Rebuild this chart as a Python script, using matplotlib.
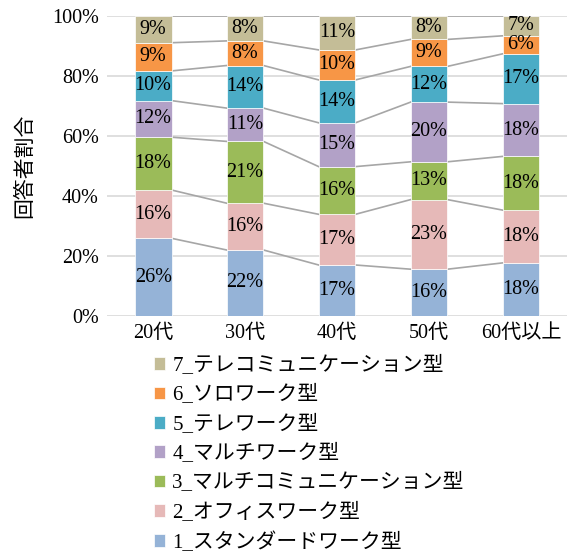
import numpy as np
import matplotlib
matplotlib.use("Agg")
import matplotlib.pyplot as plt

plt.rcParams['font.family'] = ['Liberation Serif', 'Noto Sans CJK JP']

# 年代別の回答者割合 (%)
ages = ['20代', '30代', '40代', '50代', '60代以上']
types = ['1_スタンダードワーク型', '2_オフィスワーク型', '3_マルチコミュニケーション型',
         '4_マルチワーク型', '5_テレワーク型', '6_ソロワーク型', '7_テレコミュニケーション型']
standard = [25.9, 22.0, 17.0, 15.6, 17.7]
office = [16.1, 15.6, 16.9, 23.2, 17.6]
multi_comm = [17.6, 20.6, 15.9, 12.6, 17.9]
multi_work = [12.2, 11.1, 14.6, 19.9, 17.6]
telework = [9.9, 14.2, 14.3, 11.9, 16.6]
solo = [9.4, 8.2, 10.0, 9.0, 6.0]
telecomm = [8.9, 8.3, 11.3, 7.8, 6.6]
colors = ['#95b3d7', '#e6b9b8', '#9bbb59', '#b2a1c7', '#4bacc6', '#f79646', '#c4bd97']

series = [standard, office, multi_comm, multi_work, telework, solo, telecomm]

fig = plt.figure(figsize=(5.73, 5.58), dpi=100)
ax = fig.add_axes([0.187, 0.4337, 0.8025, 0.5376])

x = np.arange(len(ages))
width = 0.40
bottom = np.zeros(len(ages))
handles = []
for vals, name, col in zip(series, types, colors):
    vals = np.array(vals)
    h = ax.bar(x, vals, width, bottom=bottom, color=col, edgecolor='white',
               linewidth=0.5, label=name, zorder=3)
    handles.append(h)
    for xi, b, v in zip(x, bottom, vals):
        ax.text(xi, b + v / 2, f'{v:.0f}%', ha='center', va='center',
                fontsize=14.5, zorder=4)
    top = bottom + vals
    # 系列線
    for i in range(len(ages) - 1):
        ax.plot([x[i] + width / 2, x[i + 1] - width / 2], [top[i], top[i + 1]],
                color='#a6a6a6', lw=1.2, zorder=2)
    bottom = top

ax.set_xlim(-0.5, len(ages) - 0.5)
ax.set_ylim(0, 100)
ax.set_yticks(np.arange(0, 101, 20))
ax.set_yticklabels([f'{t}%' for t in range(0, 101, 20)], fontsize=14.5)
ax.set_xticks(x)
ax.set_xticklabels(ages, fontsize=14.5)
ax.tick_params(length=0, pad=6)
ax.grid(axis='y', color='#d9d9d9', lw=1.2, zorder=0)
for s in ax.spines.values():
    s.set_visible(False)
ax.set_ylabel('回答者割合', fontsize=15, labelpad=12)

fig.legend(handles[::-1], types[::-1], loc='upper left',
           bbox_to_anchor=(0.25, 0.381), frameon=False, fontsize=15,
           handlelength=0.55, handleheight=0.55, handletextpad=0.35,
           labelspacing=0.45, borderpad=0)

fig.savefig('out.png', dpi=100)
